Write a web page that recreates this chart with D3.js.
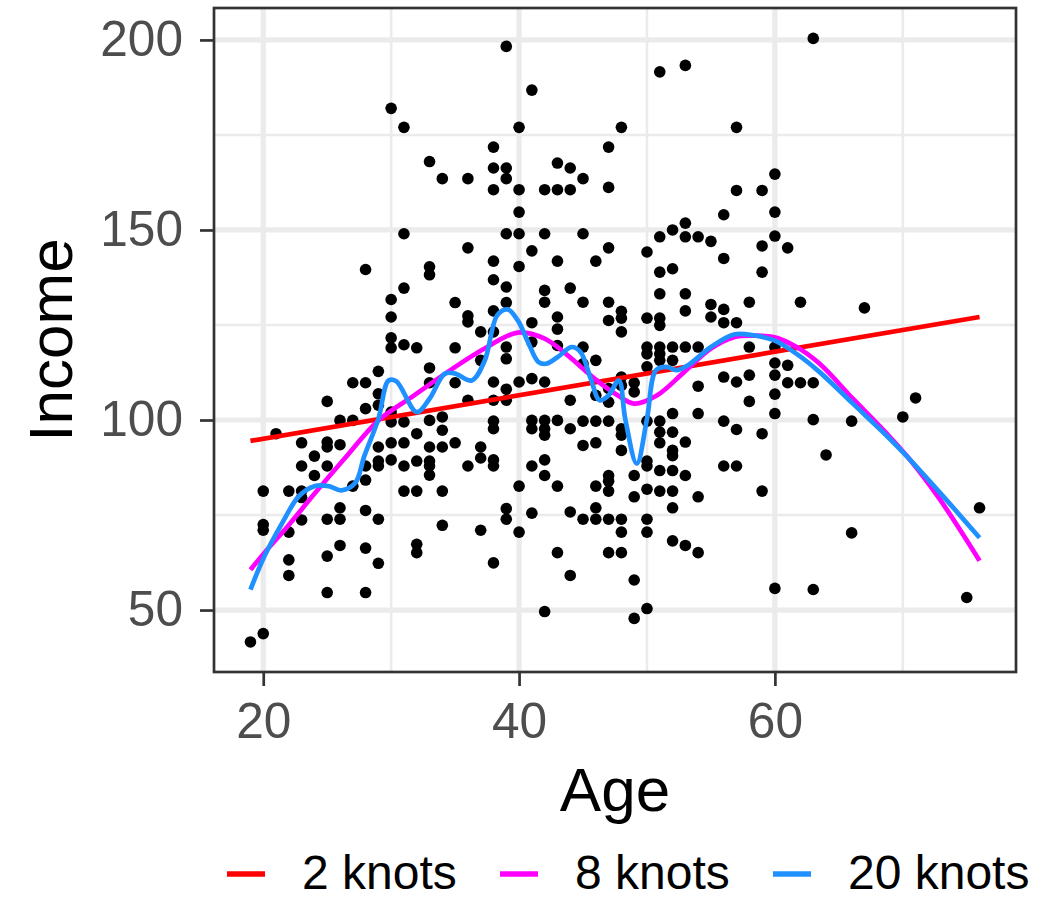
<!DOCTYPE html>
<html>
<head>
<meta charset="utf-8">
<script src="https://cdn.jsdelivr.net/npm/d3@7"></script>
<style>
  html, body { margin: 0; padding: 0; background: #fff; }
  svg { display: block; font-family: "Liberation Sans", Arial, Helvetica, sans-serif; }
</style>
</head>
<body>
<svg id="chart" width="1061" height="900"></svg>
<script>
// ---------- data ----------
// scatter: [age, [incomes...]]
const incomeByAge = [
  [19, [41.6]],
  [20, [81.3, 72.5, 71, 43.8]],
  [21, [96.4]],
  [22, [81.3, 70.5, 63.2, 59.1]],
  [23, [94, 87.9, 81.3, 79.6, 73.7]],
  [24, [90.5, 85.4]],
  [25, [104.9, 94.2, 92.9, 87.9, 73.9, 64.2, 54.6]],
  [26, [99.9, 93.5, 76.9, 73.9, 67]],
  [27, [109.8, 99.9, 82.6]],
  [28, [139.6, 109.8, 103, 87.9, 84.2, 76.2, 66.3, 54.6]],
  [29, [112.8, 106.9, 103.9, 92.9, 89.2, 87.9, 73.9, 62.3]],
  [30, [182, 131.7, 127.1, 121.6, 119, 102.1, 99.5, 94, 89.5]],
  [31, [177, 149, 134.7, 119.8, 99.5, 94, 87.9, 81.3]],
  [32, [119, 96.4, 89.2, 81.3, 67.3, 65.1]],
  [33, [168, 140.3, 138.2, 113.7, 109.8, 99.9, 92.9, 89.2, 87.9, 85.5]],
  [34, [163.5, 100.8, 97.3, 92.9, 81.3, 72.3]],
  [35, [130.9, 119, 109.8, 94]],
  [36, [163.5, 145.3, 127.4, 125.8, 105.2, 87.9]],
  [37, [123.2, 115.7, 92.9, 90, 71]],
  [38, [171.8, 166.3, 160.6, 141.8, 136.9, 128.7, 123.2, 110, 105.2, 99.7, 97.7, 89.5, 87.9, 62.4]],
  [39, [198.3, 166.3, 163.5, 149, 135, 130.9, 119.2, 116.1, 108.1, 105.2, 76.7, 73.9]],
  [40, [177, 160.6, 154.7, 149, 140.4, 110, 82.6, 70.5]],
  [41, [186.8, 144.5, 125.6, 120.5, 110.9, 99.9, 97.7, 87.9, 75.5]],
  [42, [160.6, 149, 134.1, 131, 110, 99.9, 97.7, 96, 89.5, 85.4, 49.6]],
  [43, [167.6, 160.6, 141.8, 127.1, 123.9, 119.6, 99.9, 82.6, 65.1]],
  [44, [166.3, 160.6, 134.7, 105.2, 97.7, 75.8, 59.1]],
  [45, [163.5, 149, 131, 119.2, 114.8, 99.7, 93.3, 73.9]],
  [46, [141.8, 115.7, 106.5, 99.7, 94, 82.6, 76.9, 73.9]],
  [47, [171.8, 161.2, 145.3, 131, 126.2, 108.3, 104.7, 99.7, 85.4, 83.9, 81.3, 73.9, 65.1]],
  [48, [177, 128.6, 126.8, 123.2, 111.3, 109.1, 97.7, 96, 92, 73.9, 70.5, 65.1]],
  [49, [109.8, 107.4, 85.4, 79.8, 57.9, 47.8]],
  [50, [144.2, 126.8, 119.2, 117.4, 114, 99.7, 89.2, 87.9, 81.8, 73.9, 70.5, 50.4]],
  [51, [191.6, 148.2, 138.9, 133.2, 126.8, 124.9, 119.2, 117.4, 115.7, 99.7, 96.8, 94, 86.7, 81.3]],
  [52, [150, 139.8, 119.2, 115.7, 101.7, 96.8, 92, 90.6, 86.7, 81.3, 76.9, 68.2]],
  [53, [193.3, 151.8, 148.2, 133.2, 128.7, 119.2, 94.2, 85.4, 67]],
  [54, [148.2, 119.2, 108.9, 101.7, 79.8, 65.1]],
  [55, [147, 130.4, 127.1]],
  [56, [154, 142.5, 129.1, 125.6, 111.3, 99.7, 87.9]],
  [57, [177, 160.4, 125.6, 110, 97.5, 87.9]],
  [58, [131, 119.2, 111.8, 104.9]],
  [59, [160.4, 145.8, 138.9, 96.4, 81.3]],
  [60, [164.7, 154.7, 148.4, 119.2, 115, 111.8, 106.8, 101.7, 55.7]],
  [61, [145.3, 114.4, 109.8]],
  [62, [131, 109.8]],
  [63, [200.4, 109.8, 100.1, 55.4]],
  [64, [90.8]],
  [66, [99.7, 70.3]],
  [67, [129.5]],
  [70, [100.8]],
  [71, [105.8]],
  [75, [53.3]],
  [76, [76.9]]
];

// fitted curves
const knots2Age    = [19, 76];
const knots2Income = [94.5, 127.1];

const knots8Age    = [19, 20.1, 22, 24, 26.6, 29, 31.8, 34.4, 37.3, 39.9, 42, 43.8, 45.9, 47.7, 49, 50.8, 52.9, 55, 56.8, 58.3, 59.9, 61.7, 63.5, 66.1, 68.7, 70.5, 72.9, 76];
const knots8Income = [60.6, 65.1, 72.4, 80.6, 90.8, 99.9, 106.5, 112.6, 118.8, 123.0, 121.4, 117, 110.9, 106.5, 104.3, 106.5, 112.6, 118.8, 121.8, 122.2, 121.8, 119.2, 114.8, 105.6, 96.6, 89.8, 79.1, 63];

const knots20Age    = [19, 20.1, 21.5, 22.8, 24, 25.1, 26.1, 27.2, 27.9, 29, 29.8, 30.4, 32, 33, 34.2, 35, 36.3, 37.3, 38.3, 39.1, 39.9, 40.7, 41.5, 42.1, 43, 44.1, 44.8, 45.6, 46.3, 47, 47.8, 48.3, 49.2, 50, 50.7, 51.5, 52.3, 53.2, 55, 56.8, 58.3, 59.9, 61.7, 63.5, 66.1, 68.7, 70.3, 72.9, 76];
const knots20Income = [55.4, 64.2, 73, 80, 82.6, 82.6, 81.5, 83.5, 90.5, 100.3, 110.4, 110.2, 102.1, 105.6, 112.2, 112.2, 110.4, 115.5, 127.6, 129.1, 126.2, 120.5, 115.3, 114.8, 116.5, 119.2, 117.9, 110.9, 105.2, 106.5, 110.4, 100.3, 88.5, 100.3, 113.1, 114, 113.1, 114.4, 119.2, 122.5, 122.3, 121, 117.4, 112.6, 104.3, 96, 90.5, 80.9, 69];

const seriesNames  = ["2 knots", "8 knots", "20 knots"];
const seriesColors = ["#FF0000", "#FF00FF", "#1E90FF"];

const xTicks = [20, 40, 60];
const yTicks = [50, 100, 150, 200];
const xMinor = [30, 50, 70];
const yMinor = [75, 125, 175];

// ---------- layout ----------
const panel = { left: 214, right: 1016, top: 8, bottom: 672 };
const svg = d3.select("#chart");

const x = d3.scaleLinear().domain([16.15, 78.85]).range([panel.left, panel.right]);
const y = d3.scaleLinear().domain([33.7, 208.4]).range([panel.bottom, panel.top]);

svg.append("rect")
  .attr("x", panel.left).attr("y", panel.top)
  .attr("width", panel.right - panel.left).attr("height", panel.bottom - panel.top)
  .attr("fill", "#fff");

const grid = svg.append("g");
grid.selectAll(".vmin").data(xMinor).enter().append("line")
  .attr("x1", d => x(d)).attr("x2", d => x(d))
  .attr("y1", panel.top).attr("y2", panel.bottom)
  .attr("stroke", "#EBEBEB").attr("stroke-width", 2.6);
grid.selectAll(".hmin").data(yMinor).enter().append("line")
  .attr("y1", d => y(d)).attr("y2", d => y(d))
  .attr("x1", panel.left).attr("x2", panel.right)
  .attr("stroke", "#EBEBEB").attr("stroke-width", 2.6);
grid.selectAll(".vmaj").data(xTicks).enter().append("line")
  .attr("x1", d => x(d)).attr("x2", d => x(d))
  .attr("y1", panel.top).attr("y2", panel.bottom)
  .attr("stroke", "#EBEBEB").attr("stroke-width", 5.2);
grid.selectAll(".hmaj").data(yTicks).enter().append("line")
  .attr("y1", d => y(d)).attr("y2", d => y(d))
  .attr("x1", panel.left).attr("x2", panel.right)
  .attr("stroke", "#EBEBEB").attr("stroke-width", 5.2);

// points
const pts = [];
incomeByAge.forEach(([a, vals]) => vals.forEach(v => pts.push([a, v])));
svg.append("g").selectAll("circle").data(pts).enter().append("circle")
  .attr("cx", d => x(d[0])).attr("cy", d => y(d[1]))
  .attr("r", 5.8).attr("fill", "#000");

// curves
const curves = [
  [knots2Age, knots2Income],
  [knots8Age, knots8Income],
  [knots20Age, knots20Income]
];
const line = d3.line().x(d => x(d[0])).y(d => y(d[1])).curve(d3.curveCatmullRom.alpha(0.5));
curves.forEach(([ages, incs], i) => {
  const data = ages.map((a, j) => [a, incs[j]]);
  svg.append("path").datum(data)
    .attr("d", line)
    .attr("fill", "none")
    .attr("stroke", seriesColors[i])
    .attr("stroke-width", 4.7)
    .attr("stroke-linejoin", "round");
});

// panel border
svg.append("rect")
  .attr("x", panel.left).attr("y", panel.top)
  .attr("width", panel.right - panel.left).attr("height", panel.bottom - panel.top)
  .attr("fill", "none").attr("stroke", "#333333").attr("stroke-width", 2.7);

// axes
const xAxis = d3.axisBottom(x).tickValues(xTicks).tickSize(14).tickPadding(17).tickFormat(d3.format("d"));
const gx = svg.append("g").attr("transform", `translate(0,${panel.bottom})`).call(xAxis);
gx.select(".domain").remove();
gx.selectAll(".tick line").attr("stroke", "#333333").attr("stroke-width", 2.7);
gx.selectAll(".tick text").attr("fill", "#4D4D4D").attr("font-size", 49.6)
  .attr("font-family", "'Liberation Sans', Arial, Helvetica, sans-serif");

const yAxis = d3.axisLeft(y).tickValues(yTicks).tickSize(14).tickPadding(17).tickFormat(d3.format("d"));
const gy = svg.append("g").attr("transform", `translate(${panel.left},0)`).call(yAxis);
gy.select(".domain").remove();
gy.selectAll(".tick line").attr("stroke", "#333333").attr("stroke-width", 2.7);
gy.selectAll(".tick text").attr("fill", "#4D4D4D").attr("font-size", 49.6)
  .attr("font-family", "'Liberation Sans', Arial, Helvetica, sans-serif");

// axis titles
svg.append("text")
  .attr("x", (panel.left + panel.right) / 2).attr("y", 811)
  .attr("text-anchor", "middle").attr("font-size", 62).attr("fill", "#000")
  .text("Age");
svg.append("text")
  .attr("transform", `translate(72,${(panel.top + panel.bottom) / 2}) rotate(-90)`)
  .attr("text-anchor", "middle").attr("font-size", 62).attr("fill", "#000")
  .text("Income");

// legend
const legendKeyX = [227, 500, 773];
const leg = svg.append("g");
seriesNames.forEach((name, i) => {
  leg.append("line")
    .attr("x1", legendKeyX[i]).attr("x2", legendKeyX[i] + 38)
    .attr("y1", 874).attr("y2", 874)
    .attr("stroke", seriesColors[i]).attr("stroke-width", 5.5);
  leg.append("text")
    .attr("x", legendKeyX[i] + 75).attr("y", 889)
    .attr("font-size", 48).attr("fill", "#000")
    .text(name);
});
</script>
</body>
</html>
